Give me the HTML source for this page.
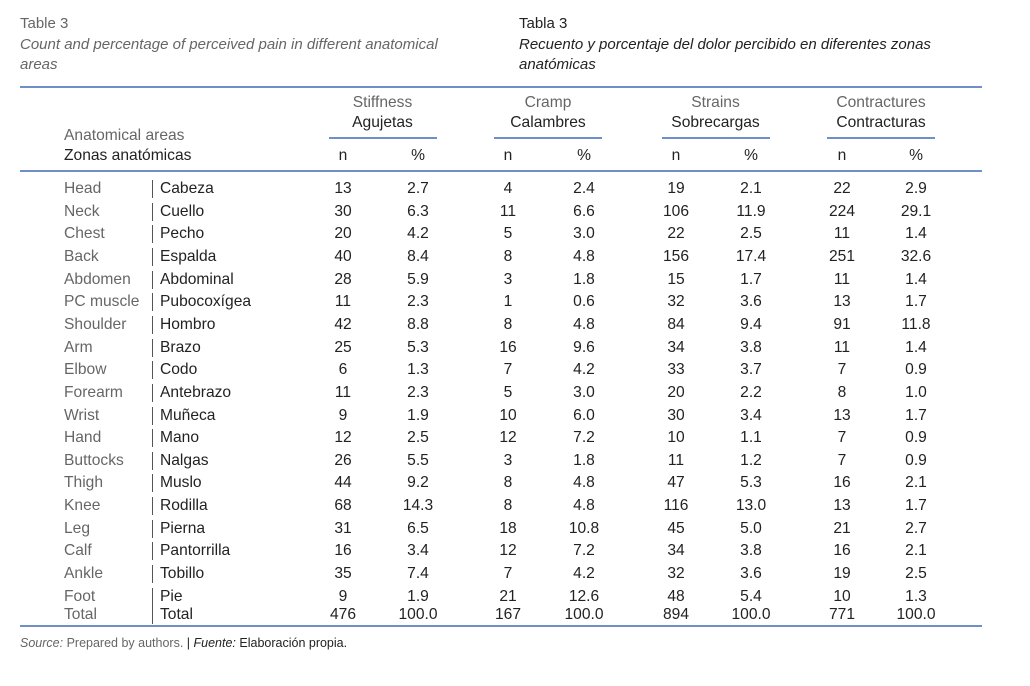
<!DOCTYPE html>
<html><head><meta charset="utf-8"><style>
body{margin:0;width:1030px;height:686px;background:#fff;font-family:"Liberation Sans",Arial,sans-serif;position:relative;overflow:hidden}
.t{position:absolute;white-space:nowrap;font-size:15.6px;line-height:18px}
.en{color:#666}.es{color:#222}
.c{transform:translateX(-50%)}
.hl{position:absolute;height:1.5px;background:#6f8fc8}
.it{font-style:italic}
.sub{line-height:20px;font-size:15px}
</style></head><body>
<div class="t en" style="left:20px;top:15px;font-size:15px">Table 3</div>
<div class="t en it sub" style="left:20px;top:35px;width:452px;white-space:normal">Count and percentage of perceived pain in different anatomical areas</div>
<div class="t es" style="left:519px;top:15px;font-size:15px">Tabla 3</div>
<div class="t es it sub" style="left:519px;top:35px;width:460px;white-space:normal">Recuento y porcentaje del dolor percibido en diferentes zonas anatómicas</div>
<div class="hl" style="left:20px;top:86px;width:962px"></div>
<div class="hl" style="left:20px;top:170px;width:962px"></div>
<div class="hl" style="left:20px;top:625px;width:962px"></div>
<div class="t en" style="left:64px;top:127px">Anatomical areas</div>
<div class="t es" style="left:64px;top:147px">Zonas anatómicas</div>
<div class="t en" style="left:20px;top:634px;font-size:12.5px"><i>Source:</i> Prepared by authors. <span style="color:#222">| <i>Fuente:</i> Elaboración propia.</span></div>
<div id="tbl"></div>
<script>
const groupsEn=["Stiffness","Cramp","Strains","Contractures"];
const groupsEs=["Agujetas","Calambres","Sobrecargas","Contracturas"];
const areasEn=["Head","Neck","Chest","Back","Abdomen","PC muscle","Shoulder","Arm","Elbow","Forearm","Wrist","Hand","Buttocks","Thigh","Knee","Leg","Calf","Ankle","Foot","Total"];
const areasEs=["Cabeza","Cuello","Pecho","Espalda","Abdominal","Pubocoxígea","Hombro","Brazo","Codo","Antebrazo","Muñeca","Mano","Nalgas","Muslo","Rodilla","Pierna","Pantorrilla","Tobillo","Pie","Total"];
const stiffN=[13,30,20,40,28,11,42,25,6,11,9,12,26,44,68,31,16,35,9,476];
const stiffP=["2.7","6.3","4.2","8.4","5.9","2.3","8.8","5.3","1.3","2.3","1.9","2.5","5.5","9.2","14.3","6.5","3.4","7.4","1.9","100.0"];
const crampN=[4,11,5,8,3,1,8,16,7,5,10,12,3,8,8,18,12,7,21,167];
const crampP=["2.4","6.6","3.0","4.8","1.8","0.6","4.8","9.6","4.2","3.0","6.0","7.2","1.8","4.8","4.8","10.8","7.2","4.2","12.6","100.0"];
const strainN=[19,106,22,156,15,32,84,34,33,20,30,10,11,47,116,45,34,32,48,894];
const strainP=["2.1","11.9","2.5","17.4","1.7","3.6","9.4","3.8","3.7","2.2","3.4","1.1","1.2","5.3","13.0","5.0","3.8","3.6","5.4","100.0"];
const contrN=[22,224,11,251,11,13,91,11,7,8,13,7,7,16,13,21,16,19,10,771];
const contrP=["2.9","29.1","1.4","32.6","1.4","1.7","11.8","1.4","0.9","1.0","1.7","0.9","0.9","2.1","1.7","2.7","2.1","2.5","1.3","100.0"];
const series=[[stiffN,stiffP],[crampN,crampP],[strainN,strainP],[contrN,contrP]];
const gx=[[343,418],[508,584],[676,751],[842,916]];
const root=document.getElementById('tbl');
function mk(txt,cls,x,y,name){const d=document.createElement('div');d.className='t '+cls;d.style.left=x+'px';d.style.top=y+'px';d.textContent=txt;


root.appendChild(d);return d;}
groupsEn.forEach((g,i)=>{const cx=(gx[i][0]+gx[i][1])/2+2;
mk(g,'en c',cx,94,'group-header-en');
mk(groupsEs[i],'es c',cx,114,'group-header-es');
const u=document.createElement('div');u.className='hl';u.style.left=(cx-54)+'px';u.style.top='137px';u.style.width='108px';


root.appendChild(u);
mk('n','es c',gx[i][0],147,'col-n');
mk('%','es c',gx[i][1],147,'col-pct');});
areasEn.forEach((a,r)=>{const y=r<19?180+r*22.65:606;
mk(a,'en',64,y,'row-label-en');
mk(areasEs[r],'es',160,y,'row-label-es');
const b=document.createElement('div');b.style.cssText='position:absolute;left:152px;width:1px;height:18px;background:#555;top:'+(y)+'px';


root.appendChild(b);
series.forEach((s,i)=>{mk(String(s[0][r]),'es c',gx[i][0],y,'cell-n');mk(s[1][r],'es c',gx[i][1],y,'cell-pct');});});
</script>
</body></html>
